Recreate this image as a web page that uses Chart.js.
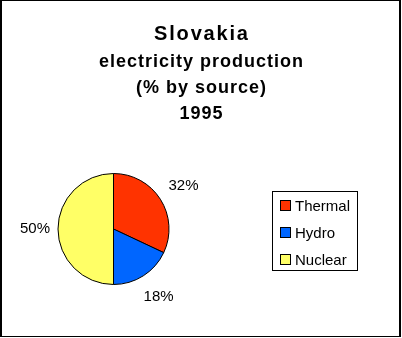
<!DOCTYPE html>
<html>
<head>
<meta charset="utf-8">
<script src="https://cdn.jsdelivr.net/npm/chart.js@4/dist/chart.umd.min.js"></script>
<style>
  html, body { margin: 0; padding: 0; background: #fff; }
  #wrap { width: 402px; height: 338px; }
</style>
</head>
<body>
<div id="wrap"><canvas id="chart" width="402" height="338"></canvas></div>
<script>
const categories = ['Thermal', 'Hydro', 'Nuclear'];
const shares = [32, 18, 50];
const sliceColors = ['#FF3300', '#0066FF', '#FFFF66'];
const titleLines = ['Slovakia', 'electricity production', '(% by source)', '1995'];

const FONT = "Arial, 'Liberation Sans', sans-serif";

// centred title over the full width, first line bigger
const titleBlock = {
    id: 'titleBlock',
    afterDraw(chart) {
        const ctx = chart.ctx;
        ctx.save();
        ctx.fillStyle = '#000';
        ctx.textAlign = 'center';
        ctx.textBaseline = 'alphabetic';
        titleLines.forEach((line, i) => {
            const sp = i === 0 ? 1.8 : 1;
            ctx.font = 'bold ' + (i === 0 ? 20 : 18) + 'px ' + FONT;
            ctx.letterSpacing = sp + 'px';
            ctx.fillText(line, 201 + sp / 2, i === 0 ? 40 : 67 + (i - 1) * 26);
        });
        ctx.restore();
    }
};

// frame round the whole picture
const framePlugin = {
    id: 'frame',
    afterDraw(chart) {
        const ctx = chart.ctx;
        ctx.save();
        ctx.fillStyle = '#000';
        ctx.fillRect(0, 0, 401, 1);
        ctx.fillRect(0, 0, 2, 337);
        ctx.fillRect(399, 0, 2, 337);
        ctx.fillRect(0, 336, 401, 1);
        ctx.restore();
    }
};

// percent labels outside the slices
const pctLabels = {
    id: 'pctLabels',
    afterDatasetsDraw(chart) {
        const ctx = chart.ctx;
        const meta = chart.getDatasetMeta(0);
        ctx.save();
        ctx.font = '15px ' + FONT;
        ctx.fillStyle = '#000';
        ctx.textAlign = 'center';
        ctx.textBaseline = 'middle';
        meta.data.forEach((arc, i) => {
            const p = arc.getProps(['x', 'y', 'startAngle', 'endAngle', 'outerRadius'], true);
            const mid = (p.startAngle + p.endAngle) / 2;
            const r = p.outerRadius + 25;
            ctx.fillText(shares[i] + '%', p.x + Math.cos(mid) * r + 2, p.y + Math.sin(mid) * r);
        });
        ctx.restore();
    }
};

// boxed legend on the right
const boxLegend = {
    id: 'boxLegend',
    afterDraw(chart) {
        const ctx = chart.ctx;
        const left = 272, top = 191, width = 85, height = 79;
        ctx.save();
        ctx.strokeStyle = '#000';
        ctx.lineWidth = 1;
        ctx.strokeRect(left + 0.5, top + 0.5, width, height);
        ctx.font = '15px ' + FONT;
        ctx.textBaseline = 'alphabetic';
        categories.forEach((name, i) => {
            const y = 200 + i * 27;
            ctx.fillStyle = sliceColors[i];
            ctx.fillRect(280, y, 10, 10);
            ctx.strokeRect(280.5, y + 0.5, 10, 10);
            ctx.fillStyle = '#000';
            ctx.fillText(name, 295, y + 11);
        });
        ctx.restore();
    }
};

new Chart(document.getElementById('chart').getContext('2d'), {
    type: 'pie',
    data: {
        labels: categories,
        datasets: [{
            data: shares,
            backgroundColor: sliceColors,
            borderColor: '#000',
            borderWidth: 1
        }]
    },
    options: {
        responsive: false,
        animation: false,
        events: [],
        layout: {
            padding: { top: 173, bottom: 53, left: 57, right: 232 }
        },
        plugins: {
            legend: { display: false },
            tooltip: { enabled: false },
            title: { display: false }
        }
    },
    plugins: [pctLabels, boxLegend, titleBlock, framePlugin]
});
</script>
</body>
</html>
